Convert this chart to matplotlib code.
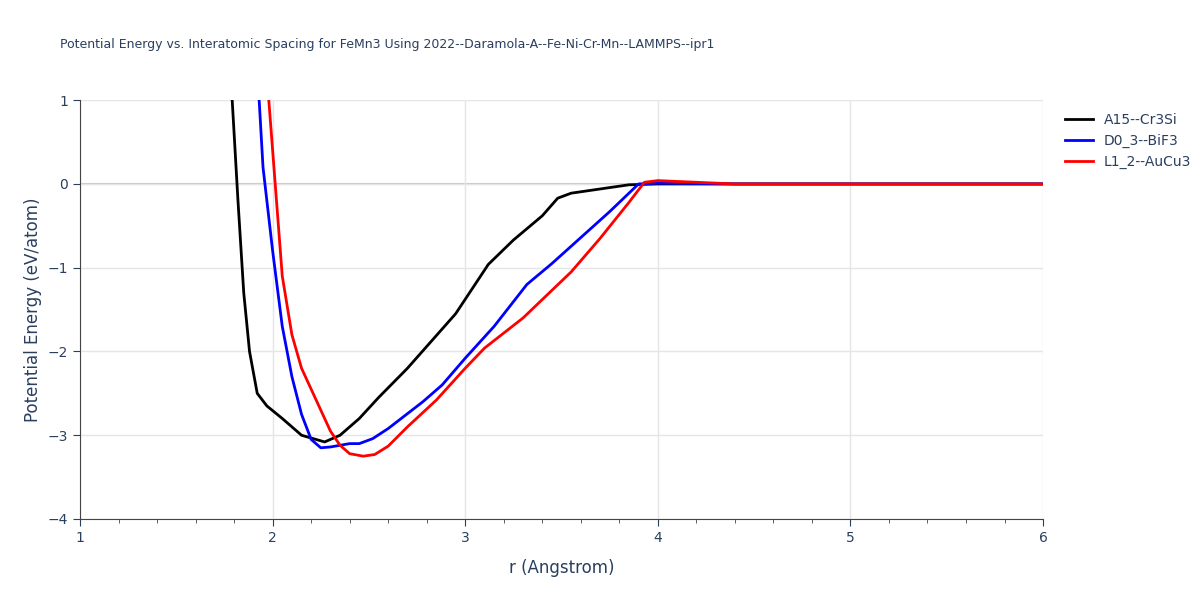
import matplotlib.pyplot as plt

# values
r_a15 = [1.77, 1.79, 1.82, 1.85, 1.88, 1.92, 1.97, 2.05, 2.15, 2.27, 2.35, 2.45, 2.55, 2.7, 2.95, 3.12, 3.25, 3.4, 3.48, 3.55, 3.7, 3.85, 4.0, 6.0]
e_a15 = [1.3, 1.0, -0.2, -1.3, -2.0, -2.5, -2.65, -2.8, -3.0, -3.08, -3.0, -2.8, -2.55, -2.2, -1.55, -0.96, -0.67, -0.38, -0.17, -0.11, -0.06, -0.01, 0.0, 0.0]

r_d03 = [1.92, 1.93, 1.95, 2.0, 2.05, 2.1, 2.15, 2.2, 2.25, 2.3, 2.4, 2.45, 2.52, 2.6, 2.78, 2.88, 3.0, 3.15, 3.32, 3.45, 3.6, 3.75, 3.9, 4.0, 4.4, 6.0]
e_d03 = [1.2, 1.0, 0.2, -0.8, -1.7, -2.3, -2.75, -3.05, -3.15, -3.14, -3.1, -3.1, -3.04, -2.92, -2.6, -2.4, -2.08, -1.7, -1.2, -0.95, -0.64, -0.33, 0.0, 0.01, 0.0, 0.0]

r_l12 = [1.97, 1.98, 2.02, 2.05, 2.1, 2.15, 2.22, 2.3, 2.35, 2.4, 2.47, 2.53, 2.6, 2.7, 2.85, 3.0, 3.1, 3.3, 3.4, 3.55, 3.7, 3.85, 3.93, 4.0, 4.2, 4.4, 6.0]
e_l12 = [1.2, 1.0, -0.2, -1.1, -1.8, -2.2, -2.55, -2.95, -3.12, -3.22, -3.25, -3.23, -3.13, -2.9, -2.58, -2.2, -1.96, -1.6, -1.38, -1.05, -0.65, -0.22, 0.02, 0.04, 0.02, 0.0, 0.0]

fig = plt.figure(figsize=(12, 6), dpi=100)
ax = fig.add_axes([0.0667, 0.135, 0.8025, 0.698])

ax.plot(r_a15, e_a15, color="black", lw=2, label="A15--Cr3Si")
ax.plot(r_d03, e_d03, color="blue", lw=2, label="D0_3--BiF3")
ax.plot(r_l12, e_l12, color="red", lw=2, label="L1_2--AuCu3")

ax.set_xlim(1, 6)
ax.set_ylim(-4, 1)
ax.set_xticks([1, 2, 3, 4, 5, 6])
ax.set_xticks([1.2, 1.4, 1.6, 1.8, 2.2, 2.4, 2.6, 2.8, 3.2, 3.4, 3.6, 3.8, 4.2, 4.4, 4.6, 4.8, 5.2, 5.4, 5.6, 5.8], minor=True)
ax.set_yticks([-4, -3, -2, -1, 0, 1])
ax.set_yticklabels(["\u22124", "\u22123", "\u22122", "\u22121", "0", "1"])
ax.grid(True, color="#e5e5e5", lw=1)
ax.axhline(0, color="#c8c8c8", lw=1.5, zorder=0.5)
ax.set_axisbelow(True)
for s in ["top", "right"]:
    ax.spines[s].set_visible(False)
for s in ["left", "bottom"]:
    ax.spines[s].set_color("#444444")
ax.tick_params(colors="#2a3f5f", labelsize=10, length=5)
ax.tick_params(axis="x", which="minor", length=3, color="#444444")
ax.set_xlabel("r (Angstrom)", color="#2a3f5f", fontsize=12, labelpad=10)
ax.set_ylabel("Potential Energy (eV/atom)", color="#2a3f5f", fontsize=12)

fig.text(0.05, 0.92, "Potential Energy vs. Interatomic Spacing for FeMn3 Using 2022--Daramola-A--Fe-Ni-Cr-Mn--LAMMPS--ipr1",
         fontsize=9, color="#2a3f5f")
ax.legend(loc="upper left", bbox_to_anchor=(1.01, 1.0), frameon=False, fontsize=10,
          labelcolor="#2a3f5f", handlelength=2)

fig.savefig("out.png")
